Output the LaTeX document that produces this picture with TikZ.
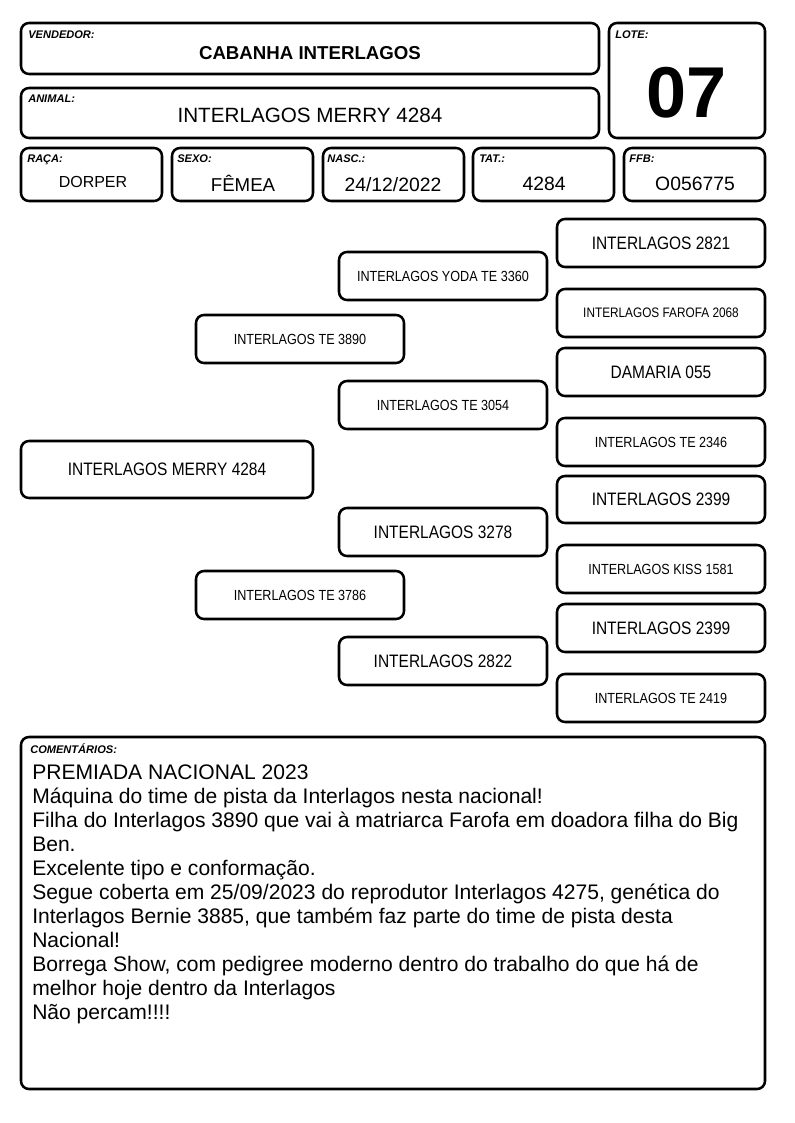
\documentclass[tikz,border=0pt]{standalone}
\usepackage{fontspec}
\setmainfont{Liberation Sans}
\newfontfamily\narrowfont[FakeStretch=0.86]{Liberation Sans}
\begin{document}
\begin{tikzpicture} [
                x=0.75pt, y=-0.75pt,
                card/.style = {draw,line width=1.9pt,rounded corners=6pt,inner sep=0pt},
                tag/.style = {font=\fontsize{8.3}{9}\selectfont\bfseries\itshape,anchor=base west,inner sep=0pt},
                value/.style = {anchor=base,inner sep=0pt},
                ped big/.style = {card,font=\narrowfont\fontsize{13.5}{15}\selectfont},
                ped small/.style = {card,font=\narrowfont\fontsize{11}{13}\selectfont},
                ped tiny/.style = {card,font=\narrowfont\fontsize{10.3}{12}\selectfont},
            ]
            \useasboundingbox (0,0) rectangle (794,1123);
            % First the header cards
            \foreach \name/\xl/\yt/\xr/\yb in {
                    vend/21/23/599/74,
                    lote/609/23/765/138,
                    animal/21/88/599/138,
                    raca/21/148/162/201,
                    sexo/172/148/313/201,
                    nasc/323/148/464/201,
                    tat/473/148/614/201,
                    ffb/624/148/765/201,
                    coment/21/737/765/1089}
                \node[card,minimum width=(\xr-\xl)*0.75pt,minimum height=(\yb-\yt)*0.75pt] (\name) at ({(\xl+\xr)/2},{(\yt+\yb)/2}) {};
            % Small labels in the corners
            \foreach \name/\pos/\label in {
                    vend tag/{(28,39)}/VENDEDOR:,
                    lote tag/{(615,39)}/LOTE:,
                    animal tag/{(28,103)}/ANIMAL:,
                    raca tag/{(27,163)}/RAÇA:,
                    sexo tag/{(177,163)}/SEXO:,
                    nasc tag/{(327,163)}/NASC.:,
                    tat tag/{(479,163)}/TAT.:,
                    ffb tag/{(629,163)}/FFB:,
                    coment tag/{(30,753)}/COMENTÁRIOS:}
                \node[tag] (\name) at \pos {\label};
            % Values
            \node[value,font=\fontsize{14}{16}\selectfont\bfseries] (vend val) at (310,60) {CABANHA INTERLAGOS};
            \node[value,font=\fontsize{54}{60}\selectfont\bfseries] (lote val) at (687,118) {07};
            \node[value,font=\fontsize{15.5}{18}\selectfont] (animal val) at (310,123) {INTERLAGOS MERRY 4284};
            \node[value,font=\fontsize{12}{14}\selectfont] (raca val) at (93,188) {DORPER};
            \node[value,font=\fontsize{14}{16}\selectfont] (sexo val) at (243,192) {FÊMEA};
            \node[value,font=\fontsize{14.5}{16}\selectfont] (nasc val) at (393,192) {24/12/2022};
            \node[value,font=\fontsize{14.5}{16}\selectfont] (tat val) at (544,191) {4284};
            \node[value,font=\fontsize{14.5}{16}\selectfont] (ffb val) at (695,191) {O056775};
            % Then the pedigree
            \foreach \name/\xl/\yt/\xr/\yb/\kind/\label in {
                    p/21/441/313/498/ped big/INTERLAGOS MERRY 4284,
                    s/196/315/404/363/ped small/INTERLAGOS TE 3890,
                    d/196/571/404/619/ped small/INTERLAGOS TE 3786,
                    ss/339/252/547/300/ped small/INTERLAGOS YODA TE 3360,
                    sd/339/381/547/429/ped small/INTERLAGOS TE 3054,
                    ds/339/508/547/556/ped big/INTERLAGOS 3278,
                    dd/339/637/547/685/ped big/INTERLAGOS 2822,
                    sss/557/219/765/267/ped big/INTERLAGOS 2821,
                    ssd/557/289/765/337/ped tiny/INTERLAGOS FAROFA 2068,
                    sds/557/348/765/396/ped big/DAMARIA 055,
                    sdd/557/418/765/466/ped small/INTERLAGOS TE 2346,
                    dss/557/476/765/523/ped big/INTERLAGOS 2399,
                    dsd/557/545/765/593/ped small/INTERLAGOS KISS 1581,
                    dds/557/604/765/652/ped big/INTERLAGOS 2399,
                    ddd/557/674/765/722/ped small/INTERLAGOS TE 2419}
                \node[\kind,minimum width=(\xr-\xl)*0.75pt,minimum height=(\yb-\yt)*0.75pt] (\name) at ({(\xl+\xr)/2},{(\yt+\yb)/2}) {\label};
            % Comments text
            \node[anchor=north west,align=left,inner sep=0pt,font=\fontsize{15.8}{18}\selectfont] (coment text) at (32,765) {%
                PREMIADA NACIONAL 2023\\
                Máquina do time de pista da Interlagos nesta nacional!\\
                Filha do Interlagos 3890 que vai à matriarca Farofa em doadora filha do Big\\
                Ben.\\
                Excelente tipo e conformação.\\
                Segue coberta em 25/09/2023 do reprodutor Interlagos 4275, genética do\\
                Interlagos Bernie 3885, que também faz parte do time de pista desta\\
                Nacional!\\
                Borrega Show, com pedigree moderno dentro do trabalho do que há de\\
                melhor hoje dentro da Interlagos\\
                Não percam!!!!};
        \end{tikzpicture}
\end{document}
